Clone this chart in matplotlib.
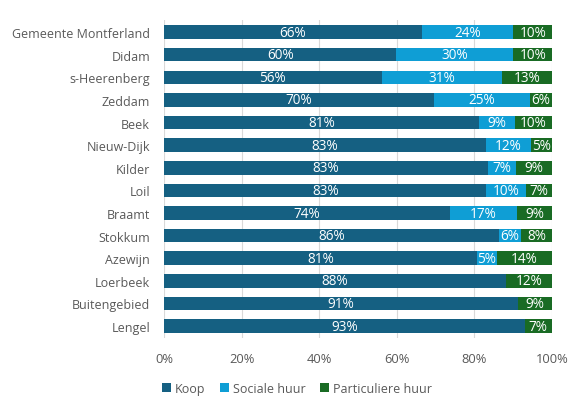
import matplotlib
matplotlib.use("Agg")
import matplotlib.pyplot as plt
import numpy as np
from matplotlib.ticker import PercentFormatter

plt.rcParams['font.family'] = ['Open Sans', 'DejaVu Sans']

categories = ["Gemeente Montferland", "Didam", "s-Heerenberg", "Zeddam", "Beek",
              "Nieuw-Dijk", "Kilder", "Loil", "Braamt", "Stokkum", "Azewijn",
              "Loerbeek", "Buitengebied", "Lengel"]
koop = [66.4, 59.9, 56.1, 69.6, 81.2, 82.9, 83.4, 83.1, 73.7, 86.4, 80.6, 88.0, 91.1, 92.9]
sociale_huur = [23.6, 30.1, 31.0, 24.7, 9.2, 11.7, 7.2, 10.3, 17.2, 5.6, 5.2, 0.0, 0.0, 0.0]
particuliere_huur = [10.0, 10.0, 12.9, 5.7, 9.6, 5.4, 9.4, 6.6, 9.1, 8.0, 14.2, 12.0, 8.9, 7.1]
series_names = ["Koop", "Sociale huur", "Particuliere huur"]
colors = ["#156082", "#0F9ED5", "#196B24"]

fig = plt.figure(figsize=(5.86, 4.14), dpi=100)
ax = fig.add_axes([0.2799, 0.181, 0.6622, 0.768])

y = np.arange(len(categories))
left = np.zeros(len(categories))
for name, vals, col in zip(series_names, [koop, sociale_huur, particuliere_huur], colors):
    vals = np.array(vals)
    bars = ax.barh(y, vals, left=left, height=0.6, color=col, label=name, zorder=3)
    for b, v in zip(bars, vals):
        if v > 0:
            ax.text(b.get_x() + b.get_width() / 2, b.get_y() + b.get_height() / 2,
                    f"{round(v):d}%", ha="center", va="center", color="white",
                    fontsize=9.8, zorder=4)
    left += vals

ax.set_yticks(y)
ax.set_yticklabels(categories)
ax.set_ylim(len(categories) - 0.47, -0.53)
ax.set_xlim(0, 100)
ax.set_xticks(np.arange(0, 101, 20))
ax.xaxis.set_major_formatter(PercentFormatter(decimals=0))
ax.grid(axis="x", color="#D9D9D9", linewidth=0.8, zorder=0)
for s in ax.spines.values():
    s.set_visible(False)
ax.tick_params(axis="both", length=0, colors="#595959")
ax.tick_params(axis="x", pad=10, labelsize=9.3)
ax.tick_params(axis="y", pad=10, labelsize=9)

fig.legend(loc="center", bbox_to_anchor=(0.507, 0.06), ncol=3, frameon=False,
           fontsize=9, handlelength=0.7, handleheight=0.7, handletextpad=0.3,
           columnspacing=1.2, labelcolor="#595959")

fig.savefig("out.png", dpi=100)
